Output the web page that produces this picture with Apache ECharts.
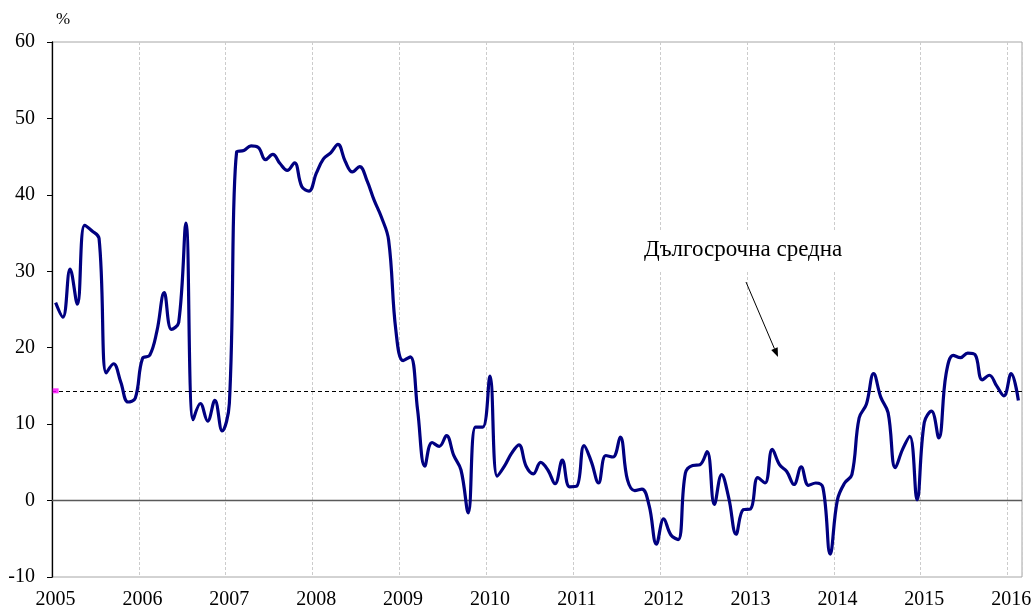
<!DOCTYPE html>
<html>
<head>
<meta charset="utf-8">
<script src="https://cdn.jsdelivr.net/npm/echarts@6/dist/echarts.min.js"></script>
<style>
html,body{margin:0;padding:0;background:#fff;}
#chart{width:1036px;height:612px;}
</style>
</head>
<body>
<div id="chart"></div>
<script>
// Monthly categories Jan 2005 .. Feb 2016
var startYear = 2005;
var categories = [];
for (var k = 0; k < 134; k++) {
  var y = startYear + Math.floor(k / 12);
  var m = (k % 12) + 1;
  categories.push(y + '-' + (m < 10 ? '0' + m : m));
}

var values2005 = [25.9, 24.0, 30.3, 25.7, 36.0, 35.3, 34.3, 16.7, 17.9, 15.5, 12.9, 13.4];
var values2006 = [18.6, 19.0, 22.2, 27.2, 22.4, 23.3, 36.3, 10.6, 12.7, 10.4, 13.1, 9.1];
var values2007 = [12.7, 45.6, 45.8, 46.4, 46.2, 44.6, 45.3, 44.1, 43.2, 44.2, 41.1, 40.5];
var values2008 = [42.8, 44.7, 45.5, 46.6, 44.4, 43.0, 43.7, 41.9, 39.3, 37.1, 34.1, 22.3];
var values2009 = [18.3, 18.8, 11.9, 4.5, 7.6, 7.1, 8.5, 5.9, 4.0, -1.6, 9.6, 9.6];
var values2010 = [16.3, 3.2, 4.5, 6.2, 7.3, 4.5, 3.5, 5.0, 4.0, 2.2, 5.3, 1.8];
var values2011 = [1.9, 7.2, 5.1, 2.3, 5.9, 5.7, 8.3, 2.7, 1.3, 1.5, -0.7, -5.7];
var values2012 = [-2.4, -4.5, -5.1, 3.6, 4.6, 4.7, 6.4, -0.5, 3.4, 0.3, -4.4, -1.2];
var values2013 = [-1.1, 3.0, 2.3, 6.7, 4.7, 3.8, 2.1, 4.4, 2.0, 2.3, 1.7, -7.0];
var values2014 = [0.1, 2.3, 3.4, 10.8, 12.6, 16.6, 13.5, 11.5, 4.3, 6.7, 8.4, 0.1];
var values2015 = [10.2, 11.7, 8.2, 16.5, 19.0, 18.7, 19.3, 19.1, 15.8, 16.4, 15.0, 13.7];
var values2016 = [16.6, 13.1];

var longTermMean = 14.36;
var yTicks = [-10, 0, 10, 20, 30, 40, 50, 60];
var annotationText = 'Дългосрочна средна';
var unitLabel = '%';

var seriesValues = [].concat(values2005, values2006, values2007, values2008, values2009,
  values2010, values2011, values2012, values2013, values2014, values2015, values2016);

var FONT = '"Liberation Serif", "Times New Roman", serif';

var chart = echarts.init(document.getElementById('chart'), null, {renderer: 'canvas'});

// arrow geometry (annotation)
var ax1 = 746, ay1 = 282, ax2 = 778, ay2 = 357;
var dx = ax2 - ax1, dy = ay2 - ay1, len = Math.sqrt(dx*dx + dy*dy);
var ux = dx/len, uy = dy/len, hl = 9, hw = 3.5;
var bx = ax2 - ux*hl, by = ay2 - uy*hl;

chart.setOption({
  animation: false,
  backgroundColor: '#fff',
  grid: {
    left: 52, right: 14, top: 42, bottom: 35,
    show: true, borderColor: '#a6a6a6', borderWidth: 1, backgroundColor: 'transparent'
  },
  xAxis: {
    type: 'category',
    data: categories,
    boundaryGap: true,
    axisLine: {show: false},
    axisTick: {show: false, interval: 11},
    axisLabel: {
      interval: 11, margin: 13,
      fontFamily: FONT, fontSize: 20, color: '#000',
      formatter: function (v) { return v.slice(0, 4); }
    },
    splitLine: {
      show: true, interval: 11,
      lineStyle: {color: '#cccccc', type: [3, 2], width: 1}
    }
  },
  yAxis: {
    type: 'value',
    min: yTicks[0], max: yTicks[yTicks.length - 1], interval: 10,
    axisLine: {show: true, onZero: false, lineStyle: {color: '#000', width: 1.3}},
    axisTick: {show: true, inside: false, length: 5, lineStyle: {color: '#000'}},
    axisLabel: {margin: 17, fontFamily: FONT, fontSize: 20, color: '#000'},
    splitLine: {show: false}
  },
  graphic: [
    {type: 'text', left: 56, top: 11, z: 10,
     style: {text: unitLabel, font: '17px ' + FONT, fill: '#000'}},
    {type: 'rect', z: 1, shape: {x: 636, y: 230, width: 216, height: 42}, style: {fill: '#fff'}},
    {type: 'text', z: 10, x: 644, y: 250,
     style: {text: annotationText, font: '23px ' + FONT, fill: '#000', textVerticalAlign: 'middle'}},
    {type: 'line', z: 10, shape: {x1: ax1, y1: ay1, x2: bx, y2: by}, style: {stroke: '#000', lineWidth: 1}},
    {type: 'polygon', z: 10, shape: {points: [[ax2, ay2], [bx - uy*hw, by + ux*hw], [bx + uy*hw, by - ux*hw]]},
     style: {fill: '#000'}}
  ],
  series: [
    {
      type: 'line',
      data: seriesValues,
      smooth: 0.4,
      symbol: 'none',
      z: 5,
      lineStyle: {color: '#000080', width: 3.2},
      markLine: {
        silent: true,
        symbol: ['none', 'none'],
        label: {show: false},
        data: [
          {yAxis: 0, lineStyle: {color: '#595959', type: 'solid', width: 1.3}},
          {yAxis: longTermMean, lineStyle: {color: '#000', type: [4, 3], width: 1}}
        ]
      }
    },
    {
      type: 'scatter',
      data: [[0, longTermMean]],
      symbol: 'rect',
      symbolSize: [6, 5],
      z: 6,
      itemStyle: {color: '#ff00ff'}
    }
  ]
});
</script>
</body>
</html>
